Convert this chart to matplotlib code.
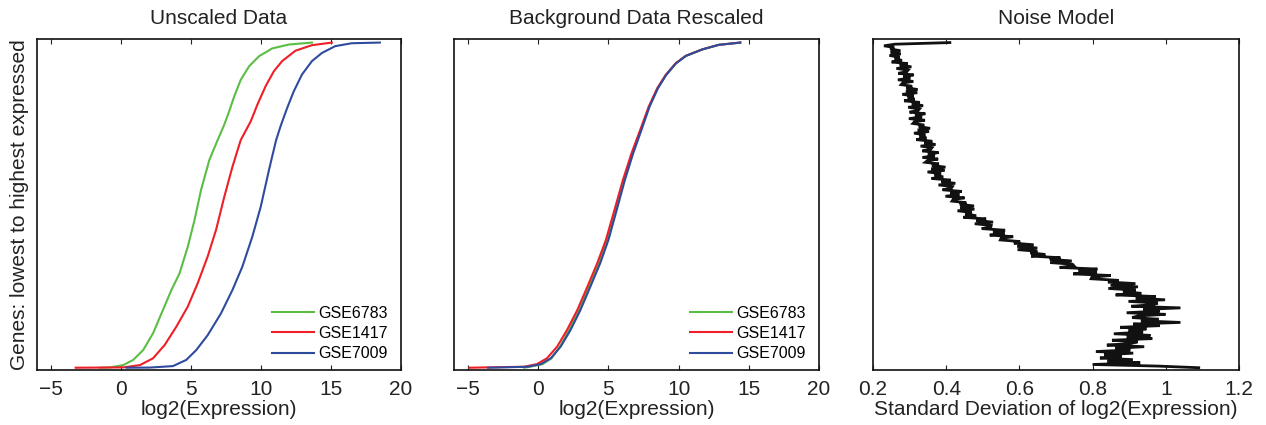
import numpy as np
import matplotlib
matplotlib.use("Agg")
import matplotlib.pyplot as plt

plt.rcParams['font.family'] = ['Liberation Sans', 'DejaVu Sans']

series_names = ["GSE6783", "GSE1417", "GSE7009"]
colors = ["#5cbd45", "#ee1f26", "#2e4b9e"]

# Panel 1: unscaled (x = log2 expression, q = fraction of genes, lowest to highest)
p1_green_q = [0, 0.001, 0.008, 0.024, 0.054, 0.106, 0.178, 0.239, 0.29, 0.372, 0.454, 0.547, 0.639, 0.70, 0.748, 0.789, 0.835, 0.886, 0.927, 0.958, 0.982, 0.994, 1.0]
p1_green_x = [-1.5, -0.78, 0.16, 0.87, 1.58, 2.29, 3.0, 3.6, 4.18, 4.77, 5.25, 5.72, 6.31, 6.9, 7.38, 7.73, 8.09, 8.56, 9.15, 9.86, 10.8, 11.99, 13.64]
p1_red_q = [0, 0.001, 0.008, 0.029, 0.07, 0.126, 0.188, 0.26, 0.342, 0.424, 0.526, 0.618, 0.70, 0.758, 0.809, 0.866, 0.912, 0.943, 0.975, 0.992, 1.0]
p1_red_x = [-3.24, 0.16, 1.35, 2.29, 3.12, 3.95, 4.77, 5.48, 6.19, 6.79, 7.38, 7.96, 8.55, 9.27, 9.74, 10.33, 10.92, 11.51, 12.46, 13.64, 15.06]
p1_blue_q = [0, 0.0005, 0.005, 0.024, 0.054, 0.10, 0.167, 0.239, 0.311, 0.403, 0.495, 0.608, 0.65, 0.70, 0.743, 0.799, 0.85, 0.902, 0.943, 0.968, 0.989, 0.998, 1.0]
p1_blue_x = [0.4, 2.06, 3.71, 4.66, 5.37, 6.19, 7.14, 7.96, 8.67, 9.38, 9.98, 10.57, 10.8, 11.08, 11.4, 11.87, 12.34, 12.93, 13.64, 14.35, 15.3, 16.48, 18.49]

# Panel 2: background rescaled
p2_q = [0, 0.003, 0.011, 0.029, 0.065, 0.116, 0.177, 0.249, 0.321, 0.393, 0.485, 0.577, 0.659, 0.731, 0.803, 0.859, 0.90, 0.936, 0.959, 0.979, 0.993, 1.0]
p2_green_x = [-1.0, -0.6, 0.3, 0.95, 1.55, 2.2, 2.9, 3.6, 4.3, 4.91, 5.51, 6.1, 6.7, 7.3, 7.9, 8.5, 9.09, 9.8, 10.51, 11.69, 12.86, 14.39]
p2_red_x = [-4.9, -1.0, -0.1, 0.62, 1.35, 2.05, 2.78, 3.5, 4.2, 4.82, 5.43, 6.03, 6.64, 7.26, 7.87, 8.47, 9.07, 9.78, 10.5, 11.68, 12.86, 14.39]
p2_blue_x = [-3.57, -0.75, 0.19, 0.89, 1.6, 2.3, 3.0, 3.71, 4.41, 5.0, 5.59, 6.17, 6.76, 7.35, 7.93, 8.52, 9.11, 9.81, 10.52, 11.69, 12.86, 14.39]

# Panel 3: noise model, std of log2(expression) per gene, lowest to highest expressed
noise_std = [
    1.09, 0.98, 0.80, 0.93, 0.84, 0.91, 0.82, 0.88,
    0.832, 0.911, 0.809, 0.903, 0.862, 0.941, 0.839, 0.903,
    0.923, 0.853, 0.963, 0.893, 0.958, 0.858, 0.938, 0.898,
    0.947, 0.875, 0.983, 0.911, 1.04, 0.932, 0.98, 0.908,
    0.924, 0.999, 0.893, 0.983, 0.938, 1.04, 0.906, 0.966,
    0.978, 0.898, 0.998, 0.918, 0.973, 0.863, 0.933, 0.883,
    0.918, 0.843, 0.924, 0.849, 0.917, 0.842, 0.871, 0.796,
    0.798, 0.85, 0.747, 0.812, 0.761, 0.813, 0.71, 0.749,
    0.745, 0.684, 0.743, 0.683, 0.712, 0.632, 0.671, 0.63,
    0.649, 0.595, 0.649, 0.594, 0.639, 0.585, 0.602, 0.548,
    0.55, 0.583, 0.519, 0.56, 0.528, 0.561, 0.497, 0.522,
    0.523, 0.478, 0.528, 0.482, 0.509, 0.447, 0.482, 0.452,
    0.47, 0.431, 0.477, 0.438, 0.476, 0.437, 0.455, 0.416,
    0.419, 0.45, 0.398, 0.436, 0.411, 0.442, 0.39, 0.414,
    0.417, 0.379, 0.425, 0.387, 0.412, 0.36, 0.392, 0.368,
    0.386, 0.349, 0.396, 0.359, 0.398, 0.361, 0.38, 0.343,
    0.349, 0.378, 0.335, 0.369, 0.35, 0.379, 0.335, 0.357,
    0.361, 0.33, 0.371, 0.34, 0.362, 0.318, 0.346, 0.327,
    0.343, 0.312, 0.353, 0.322, 0.356, 0.325, 0.34, 0.309,
    0.313, 0.342, 0.298, 0.334, 0.315, 0.343, 0.300, 0.323,
    0.327, 0.296, 0.337, 0.306, 0.328, 0.285, 0.314, 0.295,
    0.311, 0.28, 0.321, 0.29, 0.322, 0.291, 0.307, 0.277,
    0.281, 0.310, 0.268, 0.302, 0.283, 0.311, 0.269, 0.292,
    0.296, 0.264, 0.305, 0.273, 0.295, 0.251, 0.279, 0.259,
    0.273, 0.245, 0.276, 0.248, 0.275, 0.247, 0.258, 0.23,
    0.26, 0.41,
]

FS = 15
TXT = '#222222'
fig = plt.figure(figsize=(12.66, 4.25), dpi=100)
W, H = 1266, 425
bottom = (H - 370) / H
height = 331 / H
ax1 = fig.add_axes([37 / W, bottom, 364 / W, height])
ax2 = fig.add_axes([454 / W, bottom, 365 / W, height])
ax3 = fig.add_axes([873 / W, bottom, 366 / W, height])

def style(ax):
    ax.tick_params(axis='x', direction='in', top=True, bottom=True, length=3.5,
                   width=0.8, labelsize=FS, pad=7, colors=TXT)
    ax.set_yticks([])
    for s in ax.spines.values():
        s.set_linewidth(1.2)
        s.set_color('#111111')

# Panel 1
ax1.plot(p1_green_x, p1_green_q, color=colors[0], lw=1.5, label=series_names[0])
ax1.plot(p1_red_x, p1_red_q, color=colors[1], lw=1.5, label=series_names[1])
ax1.plot(p1_blue_x, p1_blue_q, color=colors[2], lw=1.5, label=series_names[2])
# Panel 2
ax2.plot(p2_green_x, p2_q, color=colors[0], lw=1.5, label=series_names[0])
ax2.plot(p2_red_x, p2_q, color=colors[1], lw=1.5, label=series_names[1])
ax2.plot(p2_blue_x, p2_q, color=colors[2], lw=1.5, label=series_names[2])

for ax, title in [(ax1, "Unscaled Data"), (ax2, "Background Data Rescaled")]:
    ax.set_xlim(-6, 20)
    ax.set_ylim(-0.007, 1.011)
    ax.set_xticks([-5, 0, 5, 10, 15, 20])
    style(ax)
    ax.set_title(title, fontsize=FS, pad=11, color=TXT)
    ax.set_xlabel("log2(Expression)", fontsize=FS, labelpad=1, color=TXT)
    ax.legend(loc='lower right', bbox_to_anchor=(1.0, -0.012), frameon=False,
              fontsize=11.5, handlelength=2.6, handletextpad=0.3,
              labelspacing=0.33, borderaxespad=0.5, borderpad=0.3)

ax1.set_ylabel("Genes: lowest to highest expressed", fontsize=FS, labelpad=6, color=TXT)

# Panel 3
rank = np.arange(len(noise_std))
ax3.plot(noise_std, rank, color='#111111', lw=2.0, solid_joinstyle='miter')
ax3.set_xlim(0.2, 1.2)
n = len(noise_std) - 1
ax3.set_ylim(-0.007 * n, 1.011 * n)
ax3.set_xticks([0.2, 0.4, 0.6, 0.8, 1.0, 1.2])
ax3.set_xticklabels(["0.2", "0.4", "0.6", "0.8", "1", "1.2"])
style(ax3)
ax3.set_title("Noise Model", fontsize=FS, pad=11, color=TXT)
ax3.set_xlabel("Standard Deviation of log2(Expression)", fontsize=FS, labelpad=1, color=TXT)

fig.savefig("out.png", dpi=100)
